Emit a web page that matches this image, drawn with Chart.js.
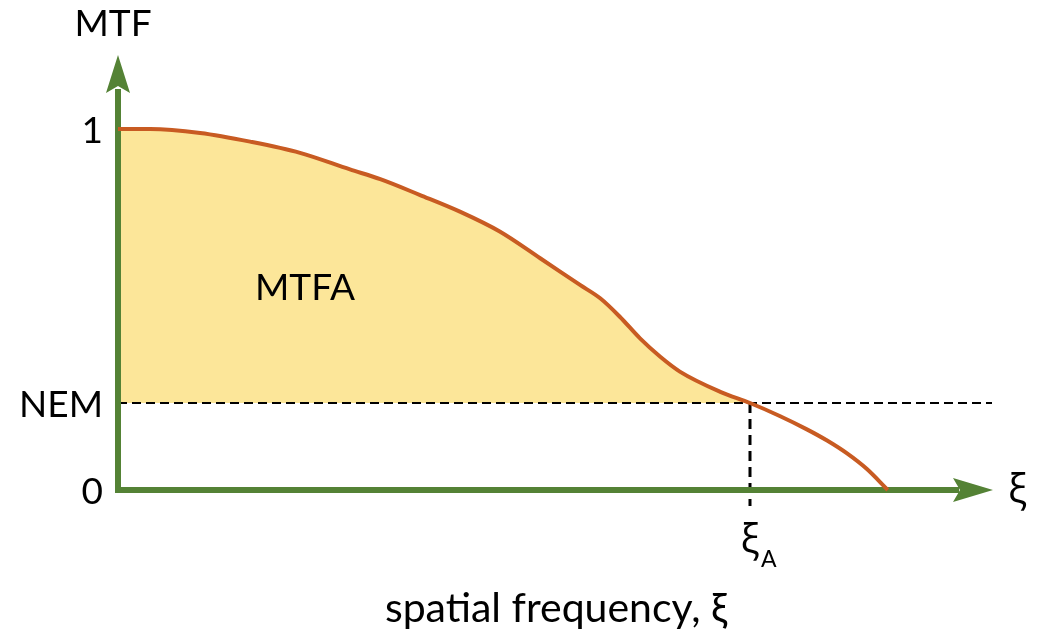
<!DOCTYPE html>
<html>
<head>
<meta charset="utf-8">
<script src="https://cdn.jsdelivr.net/npm/chart.js@4.4.1/dist/chart.umd.min.js"></script>
<style>
  html, body { margin: 0; padding: 0; background: #ffffff; }
  #wrap { width: 1041px; height: 636px; position: relative; }
</style>
</head>
<body>
<div id="wrap"><canvas id="mtfChart" width="1041" height="636"></canvas></div>
<script>
// Spatial frequency (normalised so that the threshold frequency xi_A = 1)
const xi  = [0, 0.051, 0.130, 0.209, 0.288, 0.367, 0.415, 0.478, 0.541, 0.604, 0.668, 0.731, 0.763, 0.794, 0.826, 0.858, 0.889, 0.953, 1.0, 1.047, 1.090, 1.122, 1.153, 1.185, 1.218];
// Modulation transfer function values
const mtf = [1.0, 1.0, 0.989, 0.965, 0.934, 0.888, 0.861, 0.817, 0.771, 0.716, 0.642, 0.568, 0.531, 0.480, 0.420, 0.369, 0.328, 0.272, 0.241, 0.205, 0.168, 0.137, 0.102, 0.058, 0.0];
// Noise-equivalent modulation level and the frequency where the MTF meets it
const nem = 0.241;
const xiA = 1.0;
// Axis extents (arrow tips)
const xMax = 1.3845;
const yMax = 1.205;
// Labels
const yTickLabels = [{ v: 1, text: '1' }, { v: nem, text: 'NEM' }, { v: 0, text: '0' }];
const yTitle = 'MTF';
const xTitle = 'spatial frequency, ξ';
const xAxisSymbol = 'ξ';
const areaLabel = 'MTFA';

const GREEN = '#548235';
const ORANGE = '#C85B22';
const FILL = '#FCE699';
const FONT = 'Lato, "Open Sans", "DejaVu Sans", sans-serif';

function arrowHead(ctx, tip, dir, len, half, notch) {
  // dir: unit vector pointing toward the tip
  const px = -dir[1], py = dir[0];
  const bx = tip[0] - dir[0] * len, by = tip[1] - dir[1] * len;
  const nx = tip[0] - dir[0] * (len - notch), ny = tip[1] - dir[1] * (len - notch);
  ctx.beginPath();
  ctx.moveTo(tip[0], tip[1]);
  ctx.lineTo(bx + px * half, by + py * half);
  ctx.lineTo(nx, ny);
  ctx.lineTo(bx - px * half, by - py * half);
  ctx.closePath();
  ctx.fill();
}

const axesPlugin = {
  id: 'mtfAxes',
  beforeDatasetsDraw(chart) {
    const ctx = chart.ctx;
    const xs = chart.scales.x, ys = chart.scales.y;
    const x0 = xs.getPixelForValue(0), y0 = ys.getPixelForValue(0);
    const xTip = xs.getPixelForValue(xMax), yTip = ys.getPixelForValue(yMax);
    const yNem = ys.getPixelForValue(nem), xA = xs.getPixelForValue(xiA);
    ctx.save();
    // dashed NEM level
    ctx.strokeStyle = '#000';
    ctx.lineWidth = 2;
    ctx.setLineDash([9, 5]);
    ctx.beginPath();
    ctx.moveTo(x0, yNem);
    ctx.lineTo(xTip - 1, yNem);
    ctx.stroke();
    // dashed drop line at xi_A
    ctx.lineWidth = 3;
    ctx.setLineDash([10, 6]);
    ctx.beginPath();
    ctx.moveTo(xA, yNem);
    ctx.lineTo(xA, y0 + 16);
    ctx.stroke();
    ctx.setLineDash([]);
    // axes
    ctx.strokeStyle = GREEN;
    ctx.fillStyle = GREEN;
    ctx.lineWidth = 6;
    ctx.lineCap = 'butt';
    ctx.beginPath();
    ctx.moveTo(x0, y0 + 3);
    ctx.lineTo(x0, yTip + 34);
    ctx.stroke();
    ctx.beginPath();
    ctx.moveTo(x0 - 3, y0);
    ctx.lineTo(xTip - 34, y0);
    ctx.stroke();
    arrowHead(ctx, [x0, yTip], [0, -1], 38, 12, 7);
    arrowHead(ctx, [xTip, y0], [1, 0], 40, 12, 7);
    ctx.restore();
  },
  afterDraw(chart) {
    const ctx = chart.ctx;
    const xs = chart.scales.x, ys = chart.scales.y;
    const x0 = xs.getPixelForValue(0), y0 = ys.getPixelForValue(0);
    const xTip = xs.getPixelForValue(xMax), xA = xs.getPixelForValue(xiA);
    ctx.save();
    ctx.fillStyle = '#000';
    ctx.textBaseline = 'middle';
    // y tick labels
    ctx.font = '37px ' + FONT;
    ctx.textAlign = 'right';
    yTickLabels.forEach(t => {
      ctx.fillText(t.text, x0 - 15, ys.getPixelForValue(t.v) + 2);
    });
    // y title
    ctx.textAlign = 'center';
    ctx.fillText(yTitle, 113, 24);
    // area label
    ctx.fillText(areaLabel, 305, 288);
    // x axis symbol
    ctx.textAlign = 'left';
    ctx.font = '40px "Open Sans", "DejaVu Sans", sans-serif';
    ctx.fillText(xAxisSymbol, xTip + 15, y0 + 2);
    // xi_A label
    ctx.textAlign = 'center';
    ctx.fillText('ξ', xA, y0 + 52);
    ctx.font = '23px ' + FONT;
    ctx.textAlign = 'left';
    ctx.fillText('A', xA + 11, y0 + 70);
    // x title
    ctx.font = '41px ' + FONT;
    ctx.textAlign = 'center';
    ctx.textBaseline = 'alphabetic';
    ctx.fillText(xTitle, 556, 622);
    ctx.restore();
  }
};

new Chart(document.getElementById('mtfChart'), {
  type: 'line',
  data: {
    datasets: [{
      data: xi.map((x, i) => ({ x: x, y: mtf[i] })),
      borderColor: ORANGE,
      borderWidth: 4,
      pointRadius: 0,
      cubicInterpolationMode: 'monotone',
      fill: { target: { value: nem }, above: FILL, below: 'rgba(0,0,0,0)' },
      clip: false
    }]
  },
  options: {
    responsive: false,
    animation: false,
    events: [],
    layout: { padding: { left: 118, right: 48, top: 55, bottom: 146 } },
    plugins: {
      legend: { display: false },
      tooltip: { enabled: false },
      filler: { drawTime: 'beforeDatasetsDraw' }
    },
    scales: {
      x: { type: 'linear', min: 0, max: xMax, display: false },
      y: { type: 'linear', min: 0, max: yMax, display: false }
    }
  },
  plugins: [axesPlugin]
});
</script>
</body>
</html>
